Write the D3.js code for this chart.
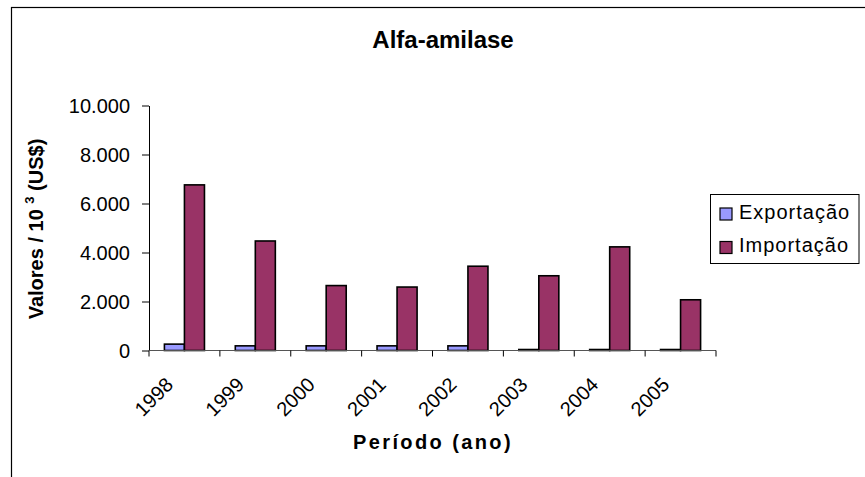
<!DOCTYPE html>
<html lang="pt">
  <head>
    <meta charset="utf-8">
    <title>Alfa-amilase</title>
    <script type="text/javascript" src="https://d3js.org/d3.v7.min.js"></script>
    <style type="text/css">
      body {
        margin: 0;
        background: #ffffff;
      }

      svg {
        display: block;
        font-family: Arial, "Liberation Sans", sans-serif;
      }

      .title {
        font-size: 24px;
        font-weight: bold;
        text-anchor: middle;
      }

      .axisTitle {
        font-size: 20px;
        font-weight: bold;
        text-anchor: middle;
      }

      .tick text {
        font-size: 20px;
        fill: #000000;
      }

      .legend text {
        font-size: 20px;
        letter-spacing: 1px;
      }

      .bar {
        stroke: #000000;
        stroke-width: 1.6;
      }
    </style>
  </head>

  <body>
    <div id="chart"></div>
    <script type="text/javascript">

    // data
    const years = ['1998', '1999', '2000', '2001', '2002', '2003', '2004', '2005'];
    const series = ['Exportação', 'Importação'];
    const exportacao = [260, 190, 190, 190, 190, 40, 40, 40];
    const importacao = [6760, 4470, 2650, 2590, 3440, 3050, 4230, 2070];
    const yTicks = [0, 2000, 4000, 6000, 8000, 10000];

    // layout
    const width = 865;
    const height = 477;

    const plot = {
      left: 149,
      right: 716,
      top: 105.5,
      bottom: 350.5
    };

    const colors = {
      'Exportação': '#9999ff',
      'Importação': '#993366'
    };

    // "10.000" style numbers
    const ptBR = d3.formatLocale({
      decimal: ',',
      thousands: '.',
      grouping: [3],
      currency: ['R$', '']
    });
    const fmt = ptBR.format(',.0f');

    const rows = years.map((y, i) => ({
      year: y,
      values: [
        {key: series[0], value: exportacao[i]},
        {key: series[1], value: importacao[i]}
      ]
    }));

    const svg = d3.select('#chart')
      .append('svg')
      .attr('width', width)
      .attr('height', height);

    // chart frame (runs off the right and bottom edges)
    svg.append('rect')
      .attr('x', 11.5)
      .attr('y', 7.5)
      .attr('width', 900)
      .attr('height', 500)
      .attr('fill', 'none')
      .attr('stroke', '#000000')
      .attr('stroke-width', 1.2);

    // scales
    const xScale = d3.scaleBand()
      .domain(years)
      .range([plot.left, plot.right])
      .padding(0);

    const xInner = d3.scaleBand()
      .domain(series)
      .range([0, xScale.bandwidth()])
      .paddingInner(0)
      .paddingOuter(0.77);

    const yScale = d3.scaleLinear()
      .domain([0, 10000])
      .range([plot.bottom, plot.top]);

    // bars
    const groups = svg.append('g')
      .selectAll('g')
      .data(rows)
      .enter()
      .append('g')
      .attr('transform', d => 'translate(' + xScale(d.year) + ',0)');

    groups.selectAll('rect')
      .data(d => d.values)
      .enter()
      .append('rect')
      .attr('class', 'bar')
      .attr('x', d => xInner(d.key))
      .attr('width', xInner.bandwidth())
      .attr('y', d => yScale(d.value))
      .attr('height', d => yScale(0) - yScale(d.value))
      .attr('fill', d => colors[d.key]);

    // y axis
    const yAxis = svg.append('g')
      .attr('transform', 'translate(' + plot.left + ',0)')
      .call(d3.axisLeft(yScale)
        .tickValues(yTicks)
        .tickFormat(fmt)
        .tickSize(7)
        .tickPadding(12)
        .tickSizeOuter(0));

    yAxis.select('.domain').attr('stroke', '#000000');
    yAxis.selectAll('.tick line').attr('stroke', '#000000');
    yAxis.selectAll('.tick text').attr('dy', '0.36em');

    // x axis: line plus tick marks between the categories
    const xAxis = svg.append('g');

    xAxis.append('line')
      .attr('x1', plot.left)
      .attr('x2', plot.right)
      .attr('y1', yScale(0))
      .attr('y2', yScale(0))
      .attr('stroke', '#555555')
      .attr('stroke-width', 1.2);

    const edges = years.map(d => xScale(d)).concat([plot.right]);

    xAxis.selectAll('.xtick')
      .data(edges)
      .enter()
      .append('line')
      .attr('class', 'xtick')
      .attr('x1', d => d)
      .attr('x2', d => d)
      .attr('y1', yScale(0))
      .attr('y2', yScale(0) + 6)
      .attr('stroke', '#000000');

    xAxis.selectAll('.xlabel')
      .data(years)
      .enter()
      .append('text')
      .attr('class', 'xlabel')
      .attr('font-size', '20px')
      .attr('text-anchor', 'end')
      .attr('transform', d => 'translate(' + (xScale(d) + xScale.bandwidth() / 2 - 10) + ',386) rotate(-45)')
      .text(d => d);

    // titles
    svg.append('text')
      .attr('class', 'title')
      .attr('x', 443)
      .attr('y', 48)
      .text('Alfa-amilase');

    svg.append('text')
      .attr('class', 'axisTitle')
      .attr('x', 433)
      .attr('y', 449)
      .attr('letter-spacing', '2.4px')
      .text('Período (ano)');

    const yTitle = svg.append('text')
      .attr('class', 'axisTitle')
      .attr('transform', 'translate(43,229) rotate(-90)');

    yTitle.append('tspan').text('Valores / 10 ');
    yTitle.append('tspan')
      .attr('font-size', '13px')
      .attr('dy', -9)
      .text('3');
    yTitle.append('tspan')
      .attr('dy', 9)
      .text(' (US$)');

    // legend
    const legend = svg.append('g')
      .attr('class', 'legend');

    legend.append('rect')
      .attr('x', 710.5)
      .attr('y', 194.5)
      .attr('width', 148.5)
      .attr('height', 69)
      .attr('fill', '#ffffff')
      .attr('stroke', '#000000');

    const items = legend.selectAll('g')
      .data(series)
      .enter()
      .append('g')
      .attr('transform', (d, i) => 'translate(720,' + (208 + i * 33.5) + ')');

    items.append('rect')
      .attr('width', 12)
      .attr('height', 12)
      .attr('fill', d => colors[d])
      .attr('stroke', '#000000')
      .attr('stroke-width', 1.2);

    items.append('text')
      .attr('x', 19)
      .attr('y', 10.5)
      .text(d => d);

    </script>
  </body>
</html>
